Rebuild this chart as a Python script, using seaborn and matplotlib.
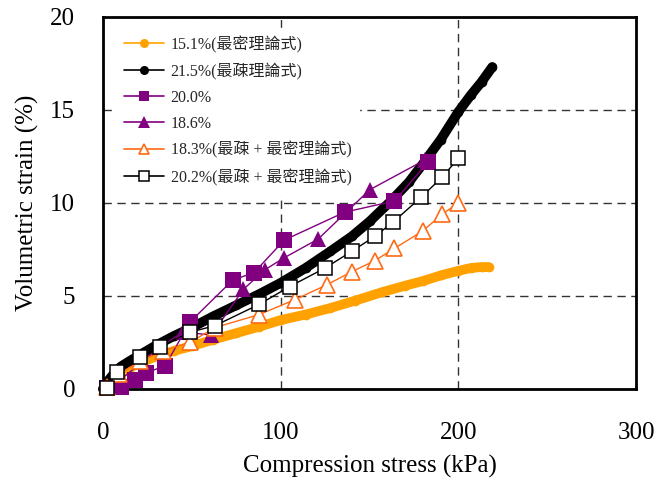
import matplotlib
matplotlib.use('Agg')
import matplotlib.pyplot as plt
import seaborn as sns
from matplotlib.lines import Line2D
from matplotlib.font_manager import FontProperties

# 15.1% (closest packing theory) - dense curve
s151_x = [0, 3, 6, 10, 15, 22, 30, 40, 50, 62, 75, 88, 100, 114, 128, 142, 157, 170, 180, 190, 200, 207, 213, 217]
s151_y = [0, 0.3, 0.55, 0.9, 1.15, 1.45, 1.75, 2.05, 2.3, 2.65, 3.0, 3.35, 3.7, 4.0, 4.35, 4.75, 5.2, 5.55, 5.8, 6.1, 6.35, 6.5, 6.55, 6.55]

# 21.5% (loosest packing theory) - dense curve
s215_x = [0, 3, 6, 10, 15, 22, 30, 40, 50, 62, 75, 88, 100, 114, 128, 140, 150, 162, 172, 180, 190, 200, 207, 213, 219]
s215_y = [0, 0.45, 0.8, 1.2, 1.5, 1.9, 2.35, 2.85, 3.3, 3.9, 4.5, 5.1, 5.7, 6.5, 7.4, 8.2, 9.0, 10.1, 11.1, 12.1, 13.4, 14.9, 15.8, 16.5, 17.3]

# 20.0% filled squares
s200_x = [2, 10, 18, 24, 35, 49, 73, 85, 102, 136, 164, 183]
s200_y = [0.05, 0.1, 0.5, 0.85, 1.25, 3.6, 5.85, 6.25, 8.0, 9.5, 10.1, 12.2]

# 18.6% filled triangles
s186_x = [2, 10, 32, 45, 61, 79, 91, 102, 121, 150, 181]
s186_y = [0.1, 0.5, 2.25, 3.05, 2.9, 5.35, 6.4, 7.05, 8.05, 10.7, 12.3]

# 18.3% open triangles (loosest + closest)
s183_x = [2, 9, 21, 34, 49, 63, 88, 108, 126, 140, 153, 164, 180, 191, 200]
s183_y = [0.1, 0.8, 1.5, 2.05, 2.5, 3.3, 4.0, 4.8, 5.6, 6.3, 6.9, 7.55, 8.5, 9.4, 10.0]

# 20.2% open squares (loosest + closest)
s202_x = [2, 8, 21, 32, 49, 63, 88, 105, 125, 140, 153, 163, 179, 191, 200]
s202_y = [0.05, 0.9, 1.7, 2.25, 3.05, 3.4, 4.55, 5.5, 6.5, 7.4, 8.2, 8.95, 10.3, 11.4, 12.4]

labels = ['15.1%(最密理論式)', '21.5%(最疎理論式)', '20.0%', '18.6%',
          '18.3%(最疎 + 最密理論式)', '20.2%(最疎 + 最密理論式)']

sns.set_theme(style='white')
plt.rcParams['font.family'] = ['Liberation Serif', 'Noto Sans CJK TC']

fig = plt.figure(figsize=(6.6, 4.79), dpi=100)
ax = fig.add_axes([0.156, 0.188, 0.808, 0.777])

orange = '#FFA200'
purple = '#800080'
red_or = '#FF6A13'

# dense theory curves
sns.lineplot(x=s151_x, y=s151_y, ax=ax, color=orange, linewidth=7, sort=False,
             marker='o', markersize=7, markeredgewidth=0, solid_capstyle='round',
             clip_on=False, zorder=3)
sns.lineplot(x=s215_x, y=s215_y, ax=ax, color='black', linewidth=7, sort=False,
             marker='o', markersize=7, markeredgewidth=0, solid_capstyle='round',
             clip_on=False, zorder=4)

# measured series
sns.lineplot(x=s200_x, y=s200_y, ax=ax, color=purple, linewidth=1, sort=False,
             marker='s', markersize=11, markeredgewidth=0, clip_on=False, zorder=5)
sns.lineplot(x=s186_x, y=s186_y, ax=ax, color=purple, linewidth=1, sort=False,
             marker='^', markersize=12, markeredgewidth=0, clip_on=False, zorder=5)
sns.lineplot(x=s183_x, y=s183_y, ax=ax, color=red_or, linewidth=1, sort=False,
             marker='^', markersize=11, markerfacecolor='white', markeredgecolor=red_or,
             markeredgewidth=1.2, clip_on=False, zorder=6)
sns.lineplot(x=s202_x, y=s202_y, ax=ax, color='black', linewidth=1, sort=False,
             marker='s', markersize=10, markerfacecolor='white', markeredgecolor='black',
             markeredgewidth=1.1, clip_on=False, zorder=6)

ax.set_xlim(0, 300)
ax.set_ylim(0, 20)
ax.set_xticks([0, 100, 200, 300])
ax.set_yticks([0, 5, 10, 15, 20])
ax.grid(True, color='#333333', linestyle=(0, (6, 4)), linewidth=1)
ax.set_axisbelow(True)

for sp in ax.spines.values():
    sp.set_color('black')
    sp.set_linewidth(2)

ax.tick_params(axis='both', direction='in', length=5, width=1, color='black',
               labelsize=18, labelcolor='black')
ax.tick_params(axis='y', pad=20)
ax.tick_params(axis='x', pad=24)

ax.set_xlabel('Compression stress (kPa)', fontsize=18, color='black', labelpad=8)
ax.set_ylabel('Volumetric strain (%)', fontsize=18, color='black', labelpad=8)

handles = [
    Line2D([], [], color=orange, lw=1.2, marker='o', markersize=6.5, markeredgewidth=0),
    Line2D([], [], color='black', lw=1.2, marker='o', markersize=6.5, markeredgewidth=0),
    Line2D([], [], color=purple, lw=1.2, marker='s', markersize=7, markeredgewidth=0),
    Line2D([], [], color=purple, lw=1.2, marker='^', markersize=8, markeredgewidth=0),
    Line2D([], [], color=red_or, lw=1.2, marker='^', markersize=7.5, markerfacecolor='white',
           markeredgecolor=red_or, markeredgewidth=1.2),
    Line2D([], [], color='black', lw=1.2, marker='s', markersize=6.5, markerfacecolor='white',
           markeredgecolor='black', markeredgewidth=1.1),
]
leg = ax.legend(handles, labels, loc='upper left', bbox_to_anchor=(0.01, 0.992),
                prop=FontProperties(family=['Liberation Serif', 'Noto Sans CJK TC'], size=11.5),
                frameon=True, facecolor='white', edgecolor='white', framealpha=1,
                handlelength=2.5, handletextpad=0.4, labelspacing=0.62, borderpad=0.5)
leg.set_zorder(10)

fig.savefig('out.png', dpi=100)
